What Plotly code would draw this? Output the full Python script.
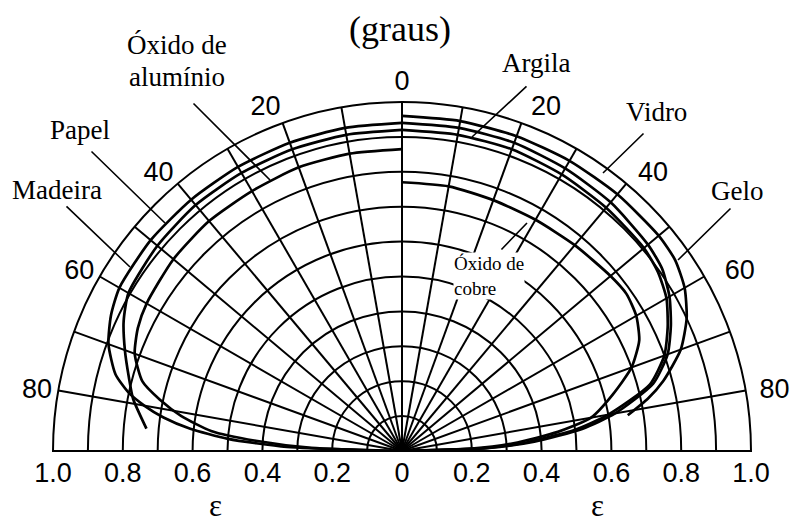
import plotly.graph_objects as go

# ---------------- data (zenith angle in degrees, directional emissivity) ----------------
# left half
papel_theta = [0, 10, 20, 30, 40, 50, 60, 65, 70, 75, 78, 80, 82, 84, 86, 88, 90]
papel_eps = [0.94, 0.94, 0.94, 0.94, 0.94, 0.94, 0.935, 0.92, 0.895, 0.85, 0.80, 0.75, 0.69, 0.61, 0.50, 0.33, 0.0]

madeira_theta = [0, 10, 20, 30, 40, 50, 60, 65, 70, 75, 79, 85]
madeira_eps = [0.92, 0.92, 0.92, 0.92, 0.92, 0.915, 0.905, 0.88, 0.845, 0.81, 0.785, 0.735]

aluminio_theta = [0, 10, 20, 30, 40, 50, 60, 65, 70, 75, 78, 81, 84, 86, 88, 90]
aluminio_eps = [0.865, 0.865, 0.865, 0.86, 0.86, 0.855, 0.845, 0.835, 0.815, 0.77, 0.71, 0.64, 0.55, 0.42, 0.26, 0.0]

# right half
gelo_theta = [0, 10, 20, 30, 40, 50, 55, 60, 65, 70, 75, 78, 81]
gelo_eps = [0.96, 0.96, 0.96, 0.96, 0.96, 0.96, 0.955, 0.935, 0.90, 0.85, 0.775, 0.72, 0.655]

vidro_theta = [0, 10, 20, 30, 40, 50, 55, 60, 65, 70, 75, 80, 83, 86, 88, 90]
vidro_eps = [0.94, 0.94, 0.94, 0.935, 0.93, 0.92, 0.91, 0.885, 0.85, 0.81, 0.745, 0.62, 0.52, 0.38, 0.25, 0.0]

argila_theta = [0, 10, 20, 30, 40, 50, 55, 60, 65, 70, 75, 80, 83, 86, 88, 90]
argila_eps = [0.92, 0.92, 0.92, 0.915, 0.91, 0.905, 0.895, 0.875, 0.84, 0.80, 0.735, 0.60, 0.50, 0.36, 0.24, 0.0]

cobre_theta = [0, 10, 20, 30, 40, 50, 55, 60, 65, 70, 75, 80, 83, 86, 88, 90]
cobre_eps = [0.77, 0.77, 0.765, 0.765, 0.77, 0.78, 0.785, 0.775, 0.75, 0.70, 0.625, 0.55, 0.45, 0.32, 0.20, 0.0]

left_series = [(papel_theta, papel_eps), (madeira_theta, madeira_eps), (aluminio_theta, aluminio_eps)]
right_series = [(gelo_theta, gelo_eps), (vidro_theta, vidro_eps), (argila_theta, argila_eps), (cobre_theta, cobre_eps)]

# tick labels
NB = "\u00a0"
angle_grid = list(range(0, 181, 10))           # plotly polar angle (0 = right baseline)
angle_labels = {10: NB + "80", 30: NB * 2 + "60", 50: NB + "40", 70: NB + "20", 90: "0",
                110: "20", 130: "40", 150: "60", 170: "80"}
radial_grid = [0.1, 0.2, 0.3, 0.4, 0.5, 0.6, 0.7, 0.8, 0.9, 1.0]
eps_ticks = [-1.0, -0.8, -0.6, -0.4, -0.2, 0.0, 0.2, 0.4, 0.6, 0.8, 1.0]
eps_ticktext = ["1.0", "0.8", "0.6", "0.4", "0.2", "0", "0.2", "0.4", "0.6", "0.8", "1.0"]

# ---------------- figure ----------------
OFF = 8                       # default page body margin
SW, SH = 799, 524             # screenshot size
FW, FH = SW - OFF, SH - OFF   # figure size
CX, CY, R = 402, 451, 349     # diagram centre / radius in screenshot pixels


def P(sx, sy):
    return (sx - OFF) / FW, 1 - (sy - OFF) / FH


x0, y0 = P(CX - R, CY)
x1, y1 = P(CX + R, CY - R)
xdom = [x0, x1]
ydom = [y0, y1]

fig = go.Figure()

# baseline of the diagram on the cartesian epsilon axis (spans the tick range)
fig.add_trace(go.Scatter(x=[eps_ticks[0], eps_ticks[-1]], y=[0, 0], mode="lines",
                         line=dict(color="black", width=2), hoverinfo="skip", cliponaxis=False))

line = dict(color="black", width=2.7, shape="spline", smoothing=0.6)
for th, ep in left_series:
    fig.add_trace(go.Scatterpolar(r=ep, theta=[90 + t for t in th], mode="lines", line=line,
                                  hoverinfo="skip"))
for th, ep in right_series:
    fig.add_trace(go.Scatterpolar(r=ep, theta=[90 - t for t in th], mode="lines", line=line,
                                  hoverinfo="skip"))

sans = "Liberation Sans, Arial, sans-serif"
serif = "Liberation Serif, Times New Roman, serif"

fig.update_layout(
    width=FW, height=FH, margin=dict(l=0, r=0, t=0, b=0, autoexpand=False),
    paper_bgcolor="white", plot_bgcolor="rgba(0,0,0,0)", showlegend=False,
    polar=dict(
        domain=dict(x=xdom, y=ydom), sector=[0, 180], bgcolor="rgba(0,0,0,0)",
        angularaxis=dict(direction="counterclockwise", rotation=0, tickmode="array",
                         tickvals=angle_grid, ticktext=[angle_labels.get(a, "") for a in angle_grid],
                         showgrid=True, gridcolor="black", gridwidth=1.6,
                         showline=True, linecolor="black", linewidth=2, ticks="",
                         tickfont=dict(family=sans, size=27, color="black")),
        radialaxis=dict(range=[0, 1], tickmode="array", tickvals=radial_grid, showticklabels=False,
                        ticks="", showline=False, gridcolor="black", gridwidth=1.6),
    ),
    xaxis=dict(domain=xdom, range=[-1, 1], tickmode="array", tickvals=eps_ticks, ticktext=eps_ticktext,
               showgrid=False, zeroline=False, showline=False, ticks="", automargin=False,
               ticklabelstandoff=3, tickfont=dict(family=sans, size=27, color="black"), fixedrange=True),
    yaxis=dict(domain=ydom, range=[0, 1], visible=False, automargin=False, fixedrange=True),
)

texts = [
    ("(graus)", 400, 29, 36, serif, False, "middle"),
    ("Óxido de", 177, 45, 27, serif, False, "middle"),
    ("alumínio", 177, 77, 27, serif, False, "middle"),
    ("Papel", 80, 130, 27, serif, False, "middle"),
    ("Madeira", 57, 190, 27, serif, False, "middle"),
    ("Argila", 536, 63, 27, serif, False, "middle"),
    ("Vidro", 656, 112, 27, serif, False, "middle"),
    ("Gelo", 737, 191, 27, serif, False, "middle"),
    ("Óxido de<br>cobre", 489, 276, 19, serif, True, "middle"),
    ("ε", 215, 524, 31, serif, False, "bottom"),
    ("ε", 597, 524, 31, serif, False, "bottom"),
]
for t, sx, sy, size, fam, bg, ya in texts:
    x, y = P(sx, sy)
    fig.add_annotation(text=t, x=x, y=y, xref="paper", yref="paper", showarrow=False,
                       xanchor="center", yanchor=ya, align="left",
                       font=dict(family=fam, size=size, color="black"),
                       bgcolor="white" if bg else "rgba(0,0,0,0)", borderpad=0)

pointers = [
    ((192, 102), (270, 180)),
    ((90, 150), (165, 223)),
    ((65, 205), (130, 267)),
    ((528, 85), (472, 137)),
    ((645, 132), (603, 173)),
    ((732, 207), (678, 260)),
    ((500, 251), (527, 223)),
]
for (tx, ty), (hx, hy) in pointers:
    x, y = P(hx, hy)
    fig.add_annotation(text="", x=x, y=y, xref="paper", yref="paper", showarrow=True,
                       arrowhead=0, arrowwidth=1.6, arrowcolor="black",
                       ax=tx - hx, ay=ty - hy, standoff=0, startstandoff=0)

fig.write_html("out.html")
